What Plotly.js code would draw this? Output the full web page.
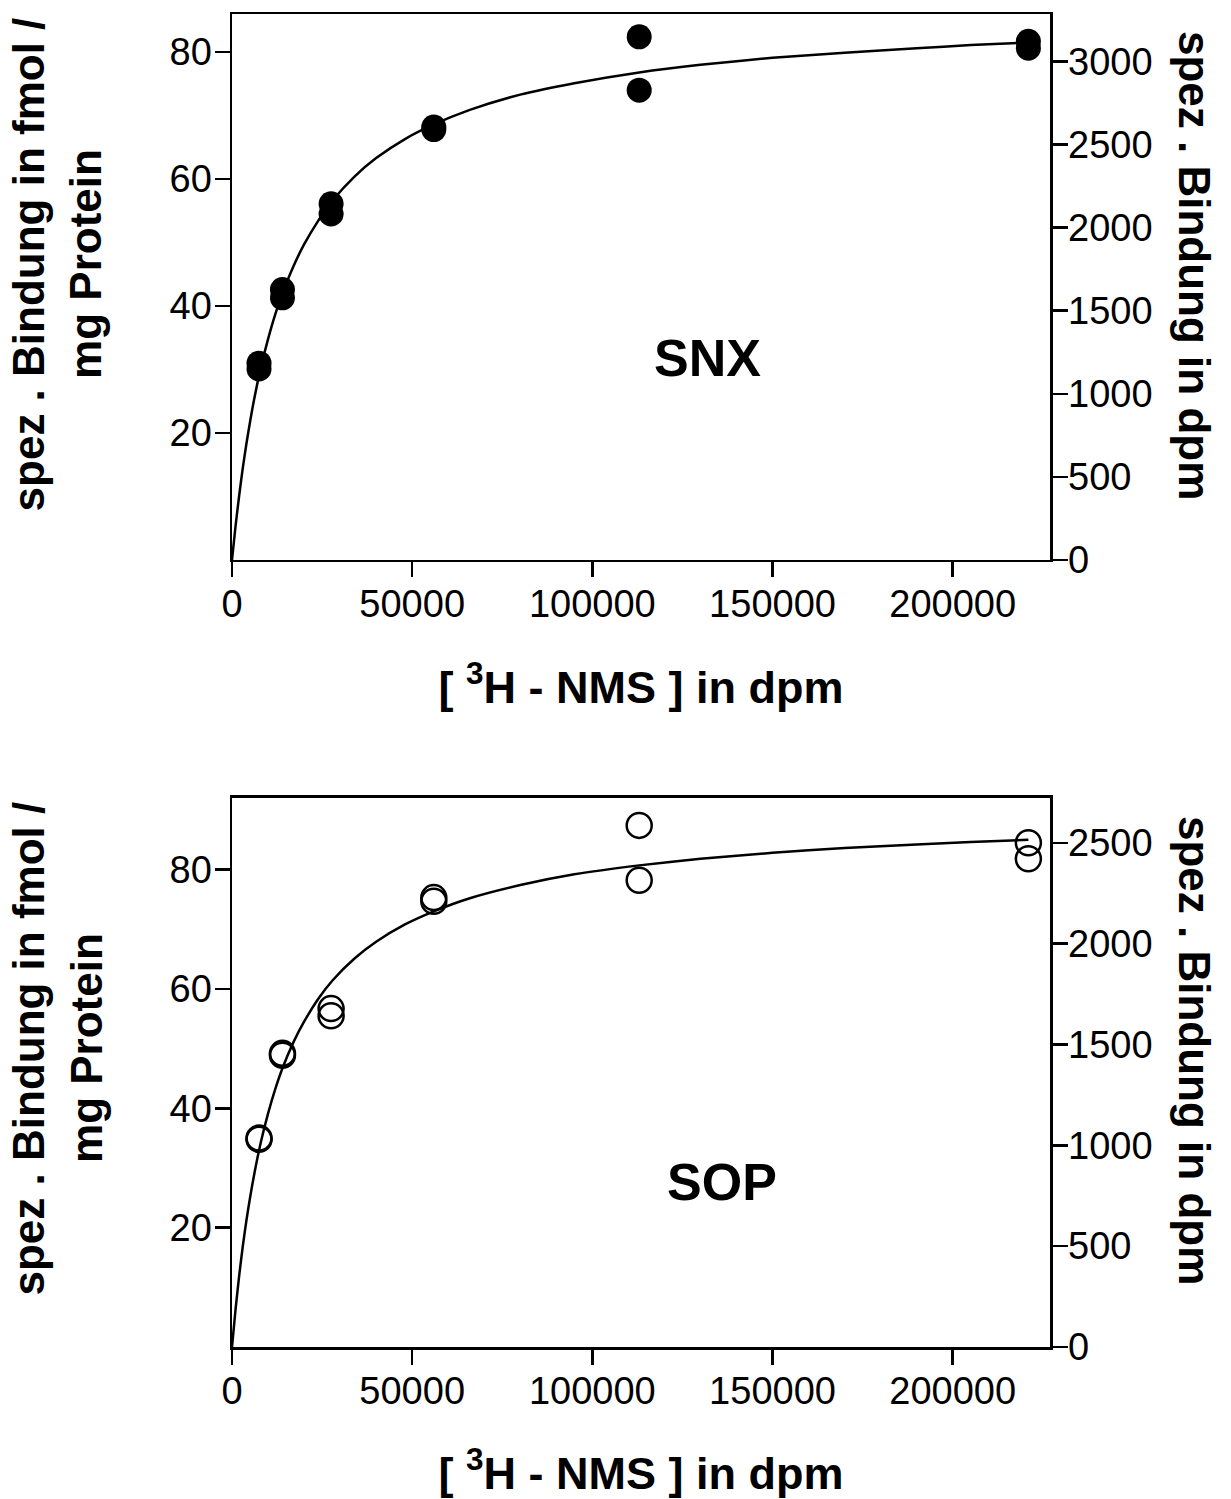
<!DOCTYPE html>
<html><head><meta charset="utf-8">
<script src="https://cdn.plot.ly/plotly-3.0.1.min.js"></script>
<style>body{margin:0;background:#fff}</style>
</head><body><div id="chart" style="width:1231px;height:1499px"></div>
<script>
// ---- data ----
const xTickVals = [0, 50000, 100000, 150000, 200000];
const yLeftTicks = [20, 40, 60, 80];
const snxRightTicks = [0, 500, 1000, 1500, 2000, 2500, 3000];
const sopRightTicks = [0, 500, 1000, 1500, 2000, 2500];

// [3H-NMS] in dpm (duplicate measurements)
const snxConc = [7500, 7500, 14000, 14000, 27500, 27500, 56000, 56000, 113000, 113000, 221000, 221000];
const snxBound = [31.0, 30.1, 42.6, 41.3, 56.1, 54.5, 68.2, 67.8, 82.4, 74.0, 81.7, 80.6];
const sopConc = [7500, 7500, 14000, 14000, 27500, 27500, 56000, 56000, 113000, 113000, 221000, 221000];
const sopBound = [35.0, 34.8, 49.2, 48.9, 56.7, 55.5, 75.3, 74.7, 87.4, 78.2, 84.5, 81.8];

// fitted saturation curves
const fitConc = [0, 1000, 2000, 3000, 4000, 6000, 8000, 10000, 12000, 14000, 17000, 20000, 24000, 28000, 34000, 40000, 48000, 56000, 66000, 80000, 95000, 113000, 130000, 150000, 170000, 190000, 205000, 221000];
const snxFit = [0, 5.4, 10.2, 14.5, 18.3, 24.9, 30.3, 34.8, 38.7, 42.0, 46.2, 49.7, 53.5, 56.7, 60.4, 63.3, 66.3, 68.6, 70.9, 73.3, 75.1, 76.8, 78.0, 79.1, 79.9, 80.6, 81.1, 81.5];
const sopFit = [0, 6.4, 12.0, 16.9, 21.2, 28.4, 34.3, 39.1, 43.2, 46.7, 51.0, 54.5, 58.4, 61.5, 65.1, 67.9, 70.8, 73.0, 75.2, 77.4, 79.2, 80.7, 81.8, 82.8, 83.6, 84.2, 84.6, 85.0];

const panelLabels = ['SNX', 'SOP'];
const xTitle = '<b>[ <sup>3</sup>H - NMS ] in dpm</b>';
const leftTitle1 = '<b>spez . Bindung in fmol /</b>';
const leftTitle2 = '<b>mg Protein</b>';
const rightTitle = '<b>spez . Bindung in dpm</b>';

// ---- chart ----
const FONT = 'Liberation Sans, Arial, sans-serif';
const traces = [
  {x: fitConc, y: snxFit, xaxis: 'x', yaxis: 'y', mode: 'lines', line: {color: '#000', width: 2.5, shape: 'spline', smoothing: 0.6}, hoverinfo: 'skip'},
  {x: snxConc, y: snxBound, xaxis: 'x', yaxis: 'y', mode: 'markers', marker: {symbol: 'circle', size: 25, color: '#000'}},
  {x: fitConc, y: sopFit, xaxis: 'x2', yaxis: 'y2', mode: 'lines', line: {color: '#000', width: 2.5, shape: 'spline', smoothing: 0.6}, hoverinfo: 'skip'},
  {x: sopConc, y: sopBound, xaxis: 'x2', yaxis: 'y2', mode: 'markers', marker: {symbol: 'circle-open', size: 25, color: '#000', line: {width: 2.5, color: '#000'}}},
  // placeholders so the right-hand (dpm) axes are drawn
  {x: [0], y: [0], xaxis: 'x', yaxis: 'y3', mode: 'none', hoverinfo: 'skip'},
  {x: [0], y: [0], xaxis: 'x2', yaxis: 'y4', mode: 'none', hoverinfo: 'skip'}
];

const axCommon = {
  showline: true, linewidth: 2.5, linecolor: '#000', ticks: 'outside', ticklen: 15, tickwidth: 2.5, tickcolor: '#000',
  showgrid: false, zeroline: false, tickfont: {family: FONT, size: 38, color: '#000'}, fixedrange: true
};
const xAx = (anchor) => Object.assign({}, axCommon, {
  anchor: anchor, domain: [0, 1], range: [0, 227000], tickvals: xTickVals, tickformat: 'd', mirror: true, ticklabelstandoff: -6,
  title: {text: xTitle, font: {family: FONT, size: 45, color: '#000'}, standoff: 48}
});

const ann = (text, x, y, angle) => ({text: text, xref: 'paper', yref: 'paper', x: x, y: y, xanchor: 'center', yanchor: 'middle',
  textangle: angle, showarrow: false, font: {family: FONT, size: 44, color: '#000'}});

const layout = {
  width: 1231, height: 1499, showlegend: false,
  paper_bgcolor: '#fff', plot_bgcolor: '#fff',
  margin: {l: 232, r: 181, t: 14, b: 152},
  font: {family: FONT, color: '#000'},
  xaxis: xAx('y'),
  xaxis2: xAx('y2'),
  yaxis: Object.assign({}, axCommon, {anchor: 'x', domain: [0.5904, 1], range: [0, 86], tickvals: yLeftTicks, ticklabelstandoff: -5}),
  yaxis3: Object.assign({}, axCommon, {anchor: 'x', overlaying: 'y', side: 'right', range: [0, 3285], tickvals: snxRightTicks, ticklabelstandoff: -7}),
  yaxis2: Object.assign({}, axCommon, {anchor: 'x2', domain: [0, 0.4119], range: [0, 92], tickvals: yLeftTicks, ticklabelstandoff: -5}),
  yaxis4: Object.assign({}, axCommon, {anchor: 'x2', overlaying: 'y2', side: 'right', range: [0, 2723], tickvals: sopRightTicks, ticklabelstandoff: -7}),
  annotations: [
    {text: '<b>' + panelLabels[0] + '</b>', xref: 'x', yref: 'y', x: 132000, y: 31.8, xanchor: 'center', yanchor: 'middle', showarrow: false, font: {family: FONT, size: 52, color: '#000'}},
    {text: '<b>' + panelLabels[1] + '</b>', xref: 'x2', yref: 'y2', x: 136000, y: 27.6, xanchor: 'center', yanchor: 'middle', showarrow: false, font: {family: FONT, size: 52, color: '#000'}},
    ann(leftTitle1, -0.2488, 0.8125, -90),
    ann(leftTitle2, -0.1785, 0.8125, -90),
    ann(leftTitle1, -0.2488, 0.2243, -90),
    ann(leftTitle2, -0.1785, 0.2243, -90),
    ann(rightTitle, 1.1773, 0.8117, 90),
    ann(rightTitle, 1.1773, 0.2228, 90)
  ]
};

Plotly.newPlot('chart', traces, layout, {displayModeBar: false, staticPlot: true});
</script></body></html>
